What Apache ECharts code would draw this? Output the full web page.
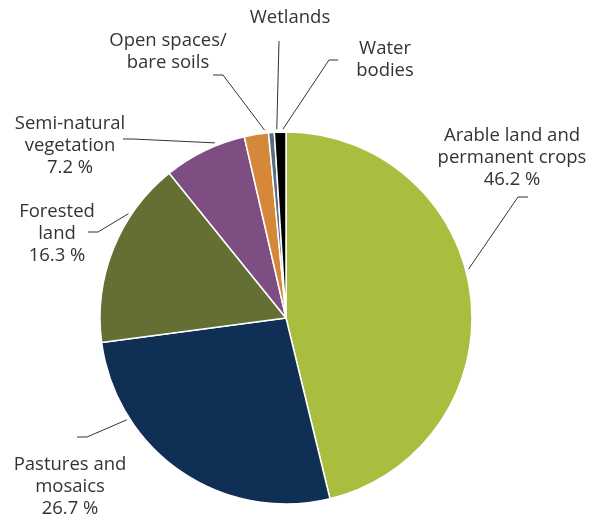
<!DOCTYPE html>
<html>
<head>
<meta charset="utf-8">
<script src="https://cdn.jsdelivr.net/npm/echarts@6/dist/echarts.min.js"></script>
<style>html,body{margin:0;padding:0;background:#fff}#c{width:598px;height:516px}</style>
</head>
<body>
<div id="c"></div>
<script>
// Data
const categories = [
  'Arable land and\npermanent crops',
  'Pastures and\nmosaics',
  'Forested\nland',
  'Semi-natural\nvegetation',
  'Open spaces/\nbare soils',
  'Wetlands',
  'Water\nbodies'
];
const values = [46.2, 26.7, 16.3, 7.2, 2.1, 0.5, 1.0];
const showValue = [true, true, true, true, false, false, false];
const colors = ['#a9bd3f', '#102f55', '#646f33', '#7e4e83', '#d5873a', '#566f80', '#000000'];

// Layout (label placement, not data)
const CX = 286, CY = 318, R = 186;
const labelPlace = [
  { x: 512, y: 158, startAngle: 75,    bend: [518, 197], end: [528, 197] },
  { x: 70,  y: 487, startAngle: 237.4, bend: [87, 437],  end: [77, 437] },
  { x: 57,  y: 234, startAngle: 303.5, bend: [98, 232],  end: [88, 232] },
  { x: 70,  y: 146, startAngle: 337.9, bend: [133, 139], end: [123, 139] },
  { x: 168, y: 52,  startAngle: 353.5, bend: [223, 75],  end: [213, 75] },
  { x: 290, y: 18,  startAngle: 357.2, bend: [279, 41],  end: [279, 41] },
  { x: 385, y: 60,  startAngle: 359.1, bend: [329, 60],  end: [338, 60] }
];

const chart = echarts.init(document.getElementById('c'), null, { renderer: 'canvas' });
chart.setOption({
  animation: false,
  backgroundColor: '#ffffff',
  series: [{
    type: 'pie',
    center: [CX, CY],
    radius: R,
    startAngle: 90,
    clockwise: true,
    avoidLabelOverlap: false,
    silent: true,
    itemStyle: { borderColor: '#ffffff', borderWidth: 1.5 },
    label: {
      show: true,
      position: 'outside',
      formatter: p => showValue[p.dataIndex] ? p.name + '\n' + values[p.dataIndex].toFixed(1) + ' %' : p.name,
      fontFamily: 'Open Sans',
      fontSize: 18.5,
      lineHeight: 22,
      color: '#333333'
    },
    labelLine: { show: true, lineStyle: { color: '#333333', width: 1 } },
    labelLayout: function (params) {
      const lp = labelPlace[params.dataIndex];
      const a = lp.startAngle * Math.PI / 180;
      const rr = R + 3;
      const s = [CX + rr * Math.sin(a), CY - rr * Math.cos(a)];
      return {
        x: lp.x, y: lp.y,
        align: 'center', verticalAlign: 'middle',
        labelLinePoints: [s, lp.bend, lp.end]
      };
    },
    data: categories.map((c, i) => ({ name: c, value: values[i], itemStyle: { color: colors[i] } }))
  }]
});
</script>
</body>
</html>
